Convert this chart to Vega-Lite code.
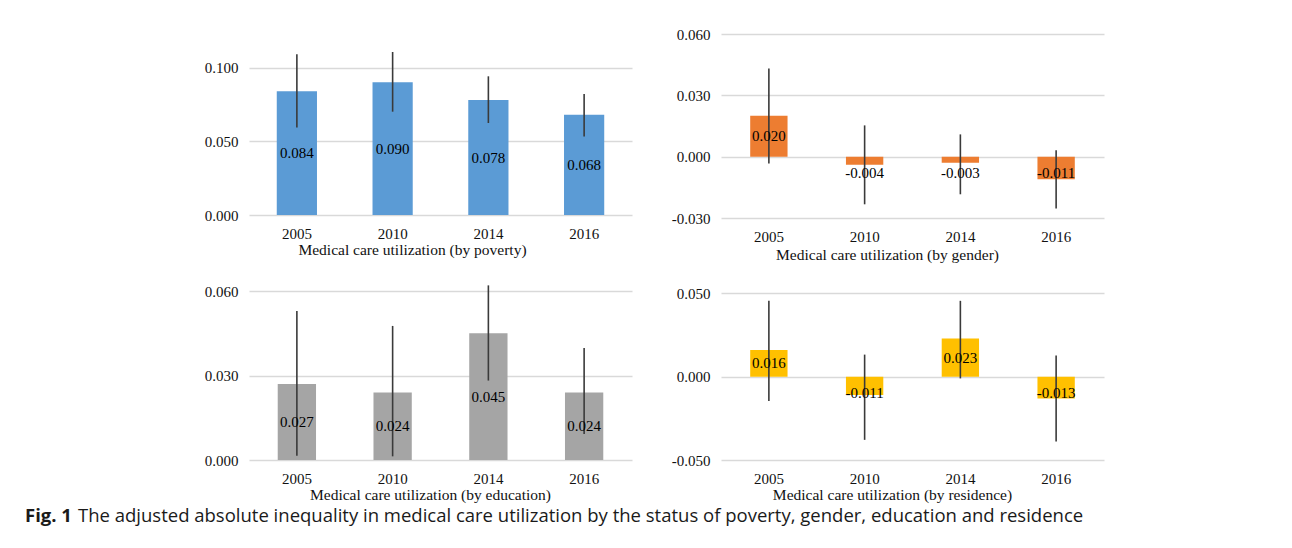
{
  "$schema": "https://vega.github.io/schema/vega-lite/v6.json",
  "background": "white",
  "padding": {"left": 25, "top": 27, "right": 5, "bottom": 5},
  "bounds": "flush",
  "columns": 2,
  "spacing": {"row": 73, "column": 89},
  "config": {
    "view": {"stroke": null},
    "font": "Liberation Serif",
    "locale": {"number": {"decimal": ".", "thousands": ",", "grouping": [3], "currency": ["$", ""], "minus": "-"}},
    "axis": {"labelFont": "Liberation Serif", "labelFontSize": 15, "labelColor": "#111111", "titleFont": "Liberation Serif", "titleFontSize": 15.5, "titleFontWeight": "normal", "titleColor": "#111111", "domain": false, "ticks": false},
    "axisY": {"grid": true, "gridColor": "#d9d9d9", "gridWidth": 1.3, "labelPadding": 11},
    "axisX": {"grid": false, "labelAngle": 0, "labelPadding": 11, "titlePadding": 1},
    "text": {"font": "Liberation Serif", "fontSize": 15, "color": "#000000"}
  },
  "datasets": {
    "poverty": [
      {"year": "2005", "value": 0.084, "lo": 0.0593, "hi": 0.109},
      {"year": "2010", "value": 0.090, "lo": 0.0701, "hi": 0.1106},
      {"year": "2014", "value": 0.078, "lo": 0.0624, "hi": 0.0941},
      {"year": "2016", "value": 0.068, "lo": 0.0532, "hi": 0.0821}
    ],
    "gender": [
      {"year": "2005", "value": 0.020, "lo": -0.0033, "hi": 0.0431},
      {"year": "2010", "value": -0.004, "lo": -0.0233, "hi": 0.0153},
      {"year": "2014", "value": -0.003, "lo": -0.0184, "hi": 0.0109},
      {"year": "2016", "value": -0.011, "lo": -0.0253, "hi": 0.0031}
    ],
    "education": [
      {"year": "2005", "value": 0.027, "lo": 0.0015, "hi": 0.0529},
      {"year": "2010", "value": 0.024, "lo": 0.0013, "hi": 0.0476},
      {"year": "2014", "value": 0.045, "lo": 0.0282, "hi": 0.062},
      {"year": "2016", "value": 0.024, "lo": 0.0092, "hi": 0.0398}
    ],
    "residence": [
      {"year": "2005", "value": 0.016, "lo": -0.0146, "hi": 0.0456},
      {"year": "2010", "value": -0.011, "lo": -0.0379, "hi": 0.0133},
      {"year": "2014", "value": 0.023, "lo": -0.001, "hi": 0.0456},
      {"year": "2016", "value": -0.013, "lo": -0.0389, "hi": 0.0127}
    ]
  },
  "concat": [
    {
      "width": 383, "height": 181,
      "data": {"name": "poverty"},
      "encoding": {"x": {"field": "year", "type": "nominal", "scale": {"paddingInner": 0.58, "paddingOuter": 0.29}, "axis": {"title": "Medical care utilization (by poverty)", "titleX": 163, "titleAlign": "center"}}},
      "layer": [
        {"mark": {"type": "bar", "color": "#5B9BD5"}, "encoding": {"y": {"field": "value", "type": "quantitative", "scale": {"domain": [0, 0.1228], "nice": false}, "axis": {"values": [0, 0.05, 0.1], "format": ".3f", "title": null}}, "y2": {"datum": 0}}},
        {"mark": {"type": "rule", "color": "#3a3a3a", "strokeWidth": 1.6}, "encoding": {"y": {"field": "lo", "type": "quantitative", "scale": {"domain": [0, 0.1228], "nice": false}, "axis": null}, "y2": {"field": "hi"}}},
        {"transform": [{"filter": "datum.value > 0"}], "mark": {"type": "text"}, "encoding": {"y": {"field": "value", "type": "quantitative", "scale": {"domain": [0, 0.2456], "nice": false}, "axis": null}, "text": {"field": "value", "format": ".3f"}}}
      ],
      "resolve": {"scale": {"y": "independent"}}
    },
    {
      "width": 383, "height": 184,
      "data": {"name": "gender"},
      "encoding": {"x": {"field": "year", "type": "nominal", "scale": {"paddingInner": 0.61, "paddingOuter": 0.305}, "axis": {"title": "Medical care utilization (by gender)", "titleX": 166, "titleAlign": "center", "titlePadding": 3}}},
      "layer": [
        {"mark": {"type": "bar", "color": "#ED7D31"}, "encoding": {"y": {"field": "value", "type": "quantitative", "scale": {"domain": [-0.03, 0.06], "nice": false}, "axis": {"values": [-0.03, 0, 0.03, 0.06], "format": ".3f", "title": null}}, "y2": {"datum": 0}}},
        {"mark": {"type": "rule", "color": "#3a3a3a", "strokeWidth": 1.6}, "encoding": {"y": {"field": "lo", "type": "quantitative", "scale": {"domain": [-0.03, 0.06], "nice": false}, "axis": null}, "y2": {"field": "hi"}}},
        {"transform": [{"filter": "datum.value > 0"}], "mark": {"type": "text"}, "encoding": {"y": {"field": "value", "type": "quantitative", "scale": {"domain": [-0.06, 0.12], "nice": false}, "axis": null}, "text": {"field": "value", "format": ".3f"}}},
        {"transform": [{"filter": "datum.value < 0"}], "mark": {"type": "text", "dy": 16}, "encoding": {"y": {"datum": 0, "type": "quantitative", "scale": {"domain": [-0.03, 0.06], "nice": false}, "axis": null}, "text": {"field": "value", "format": ".3f"}}}
      ],
      "resolve": {"scale": {"y": "independent"}}
    },
    {
      "width": 383, "height": 169,
      "data": {"name": "education"},
      "title": {"text": "Fig. 1", "orient": "bottom", "anchor": "start", "frame": "group", "dx": -224, "offset": 4, "font": "Open Sans", "fontSize": 18.5, "fontWeight": "bold", "color": "#1a1a1a"},
      "encoding": {"x": {"field": "year", "type": "nominal", "scale": {"paddingInner": 0.6, "paddingOuter": 0.3}, "axis": {"title": "Medical care utilization (by education)", "titleX": 181, "titleAlign": "center"}}},
      "layer": [
        {"mark": {"type": "bar", "color": "#A5A5A5"}, "encoding": {"y": {"field": "value", "type": "quantitative", "scale": {"domain": [0, 0.06], "nice": false}, "axis": {"values": [0, 0.03, 0.06], "format": ".3f", "title": null}}, "y2": {"datum": 0}}},
        {"mark": {"type": "rule", "color": "#3a3a3a", "strokeWidth": 1.6}, "encoding": {"y": {"field": "lo", "type": "quantitative", "scale": {"domain": [0, 0.06], "nice": false}, "axis": null}, "y2": {"field": "hi"}}},
        {"transform": [{"filter": "datum.value > 0"}], "mark": {"type": "text"}, "encoding": {"y": {"field": "value", "type": "quantitative", "scale": {"domain": [0, 0.12], "nice": false}, "axis": null}, "text": {"field": "value", "format": ".3f"}}}
      ],
      "resolve": {"scale": {"y": "independent"}}
    },
    {
      "width": 383, "height": 169,
      "data": {"name": "residence"},
      "title": {"text": "The adjusted absolute inequality in medical care utilization by the status of poverty, gender, education and residence", "orient": "bottom", "anchor": "start", "frame": "group", "dx": -643, "offset": 4, "font": "Open Sans", "fontSize": 18.5, "fontWeight": "normal", "color": "#1a1a1a"},
      "encoding": {"x": {"field": "year", "type": "nominal", "scale": {"paddingInner": 0.61, "paddingOuter": 0.305}, "axis": {"title": "Medical care utilization (by residence)", "titleX": 171, "titleAlign": "center"}}},
      "layer": [
        {"mark": {"type": "bar", "color": "#FFC000"}, "encoding": {"y": {"field": "value", "type": "quantitative", "scale": {"domain": [-0.05, 0.0515], "nice": false}, "axis": {"values": [-0.05, 0, 0.05], "format": ".3f", "title": null}}, "y2": {"datum": 0}}},
        {"mark": {"type": "rule", "color": "#3a3a3a", "strokeWidth": 1.6}, "encoding": {"y": {"field": "lo", "type": "quantitative", "scale": {"domain": [-0.05, 0.0515], "nice": false}, "axis": null}, "y2": {"field": "hi"}}},
        {"transform": [{"filter": "datum.value > 0"}], "mark": {"type": "text"}, "encoding": {"y": {"field": "value", "type": "quantitative", "scale": {"domain": [-0.1, 0.103], "nice": false}, "axis": null}, "text": {"field": "value", "format": ".3f"}}},
        {"transform": [{"filter": "datum.value < 0"}], "mark": {"type": "text", "dy": 16}, "encoding": {"y": {"datum": 0, "type": "quantitative", "scale": {"domain": [-0.05, 0.0515], "nice": false}, "axis": null}, "text": {"field": "value", "format": ".3f"}}}
      ],
      "resolve": {"scale": {"y": "independent"}}
    }
  ]
}
